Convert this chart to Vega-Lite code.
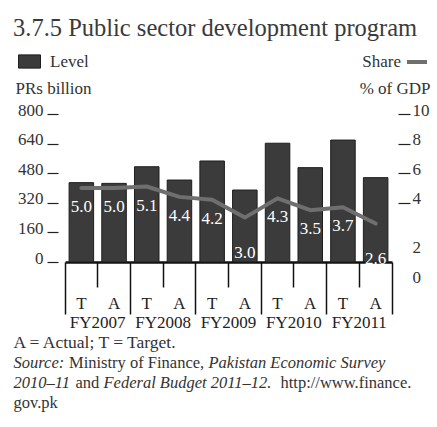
{
  "$schema": "https://vega.github.io/schema/vega-lite/v6.json",
  "width": 327,
  "height": 148,
  "autosize": "none",
  "padding": {"left": 65, "top": 114, "right": 45, "bottom": 165},
  "background": "white",
  "config": {
    "view": {"stroke": null},
    "font": "Liberation Serif",
    "axis": {"labelFont": "Liberation Serif", "titleFont": "Liberation Serif", "labelColor": "#333", "titleColor": "#333", "titleFontWeight": "normal", "grid": false, "labelFontSize": 17, "titleFontSize": 17},
    "legend": {"labelFont": "Liberation Serif", "labelFontSize": 17, "labelColor": "#333", "padding": 0, "title": null}
  },
  "title": {"text": "3.7.5 Public sector development  program", "anchor": "start", "frame": "group", "fontSize": 24.5, "font": "Liberation Serif", "fontWeight": "normal", "color": "#3a3a3a", "dx": -52, "dy": 10, "offset": 0, "baseline": "alphabetic"},
  "data": {"values": [
    {"cat": "FY2007 T", "type": "T", "level": 429, "share": 5.0},
    {"cat": "FY2007 A", "type": "A", "level": 425, "share": 5.0},
    {"cat": "FY2008 T", "type": "T", "level": 515, "share": 5.1},
    {"cat": "FY2008 A", "type": "A", "level": 443, "share": 4.4},
    {"cat": "FY2009 T", "type": "T", "level": 546, "share": 4.2},
    {"cat": "FY2009 A", "type": "A", "level": 389, "share": 3.0},
    {"cat": "FY2010 T", "type": "T", "level": 642, "share": 4.3},
    {"cat": "FY2010 A", "type": "A", "level": 510, "share": 3.5},
    {"cat": "FY2011 T", "type": "T", "level": 659, "share": 3.7},
    {"cat": "FY2011 A", "type": "A", "level": 456, "share": 2.6}
  ]},
  "layer": [
    {
      "transform": [{"filter": "datum.type == 'T'"}],
      "mark": {"type": "bar", "width": {"band": 0.75}, "stroke": "#1e1e1e", "strokeWidth": 1},
      "encoding": {
        "x": {"field": "cat", "type": "nominal", "sort": null,
          "scale": {"domain": ["FY2007 T", "FY2007 A", "FY2008 T", "FY2008 A", "FY2009 T", "FY2009 A", "FY2010 T", "FY2010 A", "FY2011 T", "FY2011 A"], "paddingInner": 0, "paddingOuter": 0},
          "axis": {"orient": "bottom", "values": ["FY2007 T", "FY2007 A", "FY2008 T", "FY2008 A", "FY2009 T", "FY2009 A", "FY2010 T", "FY2010 A", "FY2011 T", "FY2011 A"], "ticks": false, "domain": true, "domainColor": "#111", "domainWidth": 2.5, "labelExpr": "slice(datum.label, -1)", "labelAngle": 0, "labelColor": "#222", "labelBaseline": "middle", "labelPadding": 41,
            "title": "A = Actual; T = Target.", "titleFontSize": 17.5, "titleX": -52, "titleY": 85, "titleAlign": "left", "titleBaseline": "alphabetic", "titleAngle": 0}},
        "y": {"field": "level", "type": "quantitative", "scale": {"domain": [0, 800]},
          "axis": {"orient": "left", "values": [0, 160, 320, 480, 640, 800], "offset": 7, "tickSize": 11, "tickColor": "#222", "tickWidth": 1.2, "domain": false, "labelPadding": 4, "labelOffset": -4, "labelBaseline": "middle",
            "title": "PRs billion", "titleAngle": 0, "titleAlign": "left", "titleBaseline": "alphabetic", "titleX": -43, "titleY": -21}},
        "fill": {"datum": "Level", "type": "nominal", "scale": {"range": ["#3b3b3b"]},
          "legend": {"orient": "none", "legendX": -47, "legendY": -64, "symbolType": "M-1,-0.6L1,-0.6L1,0.6L-1,0.6Z", "symbolSize": 484, "symbolStrokeColor": "#1e1e1e", "symbolStrokeWidth": 1, "labelOffset": 9}}
      }
    },
    {
      "transform": [{"filter": "datum.type == 'A'"}],
      "mark": {"type": "bar", "width": {"band": 0.75}, "stroke": "#1e1e1e", "strokeWidth": 1},
      "encoding": {
        "x": {"field": "cat", "type": "nominal", "sort": null,
          "axis": {"orient": "bottom", "ticks": false, "labels": false, "domain": false,
            "title": "Ministry of Finance,", "titleFontSize": 16.5, "titleX": 3.5, "titleY": 105, "titleAlign": "left", "titleBaseline": "alphabetic", "titleAngle": 0}},
        "y": {"field": "level", "type": "quantitative", "scale": {"domain": [0, 800]},
          "axis": {"orient": "left", "labels": false, "ticks": false, "domain": false,
            "title": "and", "titleFontSize": 16.5, "titleAngle": 0, "titleAlign": "left", "titleBaseline": "alphabetic", "titleX": 10, "titleY": 273}},
        "fill": {"datum": "Level", "type": "nominal"}
      }
    },
    {
      "transform": [{"filter": "datum.share > 3"}],
      "mark": {"type": "text", "color": "white", "fontSize": 17, "dy": 19, "font": "Liberation Serif"},
      "encoding": {
        "x": {"field": "cat", "type": "nominal", "sort": null,
          "axis": {"orient": "bottom", "values": ["FY2007 T", "FY2008 T", "FY2009 T", "FY2010 T", "FY2011 T"], "bandPosition": 0, "tickSize": 52, "tickColor": "#111", "tickWidth": 1.5, "labels": false, "domain": false,
            "title": "Pakistan Economic Survey", "titleFontStyle": "italic", "titleFontSize": 16.5, "titleX": 143, "titleY": 105, "titleAlign": "left", "titleBaseline": "alphabetic", "titleAngle": 0}},
        "y": {"field": "share", "type": "quantitative", "scale": {"domain": [0, 10]},
          "axis": {"orient": "left", "labels": false, "ticks": false, "domain": false,
            "title": "Federal Budget  2011–12.", "titleFontStyle": "italic", "titleFontSize": 16.5, "titleAngle": 0, "titleAlign": "left", "titleBaseline": "alphabetic", "titleX": 38, "titleY": 273}},
        "text": {"field": "share", "type": "quantitative", "format": ".1f"}
      }
    },
    {
      "transform": [{"filter": "datum.share <= 3"}],
      "mark": {"type": "text", "color": "white", "fontSize": 17, "dy": 35, "font": "Liberation Serif"},
      "encoding": {
        "x": {"field": "cat", "type": "nominal", "sort": null,
          "axis": {"orient": "bottom", "values": ["FY2011 A"], "bandPosition": 1, "tickSize": 52, "tickColor": "#111", "tickWidth": 1.5, "labels": false, "domain": false,
            "title": ["Source:", "2010–11"], "titleFontStyle": "italic", "titleFontSize": 16.5, "titleX": -52, "titleY": 105, "titleAlign": "left", "titleBaseline": "alphabetic", "titleLineHeight": 20.3, "titleAngle": 0}},
        "y": {"field": "share", "type": "quantitative", "scale": {"domain": [0, 10]},
          "axis": {"orient": "left", "labels": false, "ticks": false, "domain": false,
            "title": "http://www.finance.", "titleFontSize": 16.5, "titleAngle": 0, "titleAlign": "left", "titleBaseline": "alphabetic", "titleX": 215, "titleY": 273}},
        "text": {"field": "share", "type": "quantitative", "format": ".1f"}
      }
    },
    {
      "mark": {"type": "line", "strokeWidth": 4, "strokeCap": "round", "strokeJoin": "round"},
      "encoding": {
        "x": {"field": "cat", "type": "nominal", "sort": null,
          "axis": {"orient": "bottom", "values": ["FY2007 A", "FY2008 A", "FY2009 A", "FY2010 A", "FY2011 A"], "bandPosition": 0, "tickSize": 25, "tickColor": "#111", "tickWidth": 1.5, "domain": false, "labelExpr": "slice(datum.label, 0, 6)", "labelAngle": 0, "labelColor": "#222", "labelBaseline": "middle", "labelPadding": 35, "labelOffset": -16.35,
            "title": "gov.pk", "titleFontSize": 16.5, "titleX": -52, "titleY": 145, "titleAlign": "left", "titleBaseline": "alphabetic", "titleAngle": 0}},
        "y": {"field": "share", "type": "quantitative", "scale": {"domain": [0, 10]},
          "axis": {"orient": "right", "values": [0, 2, 4, 6, 8, 10], "offset": 6, "tickSize": 12, "tickColor": "#222", "tickWidth": 1.2, "domain": false, "labelPadding": 2, "labelBaseline": "middle",
            "labelOffset": {"condition": {"test": "datum.value <= 2", "value": 15}, "value": -4},
            "tickOpacity": {"condition": {"test": "datum.value <= 2", "value": 0}, "value": 1},
            "title": "% of GDP", "titleAngle": 0, "titleAlign": "right", "titleBaseline": "alphabetic", "titleX": 32, "titleY": -21}},
        "stroke": {"datum": "Share", "type": "nominal", "scale": {"range": ["#6f6f6f"]},
          "legend": {"orient": "none", "legendX": 340, "legendY": -64, "symbolType": "M-1,0L1,0", "symbolSize": 400, "symbolStrokeWidth": 4, "labelAlign": "right", "labelOffset": -28}}
      }
    }
  ],
  "resolve": {"scale": {"y": "independent"}, "axis": {"x": "independent", "y": "independent"}}
}
